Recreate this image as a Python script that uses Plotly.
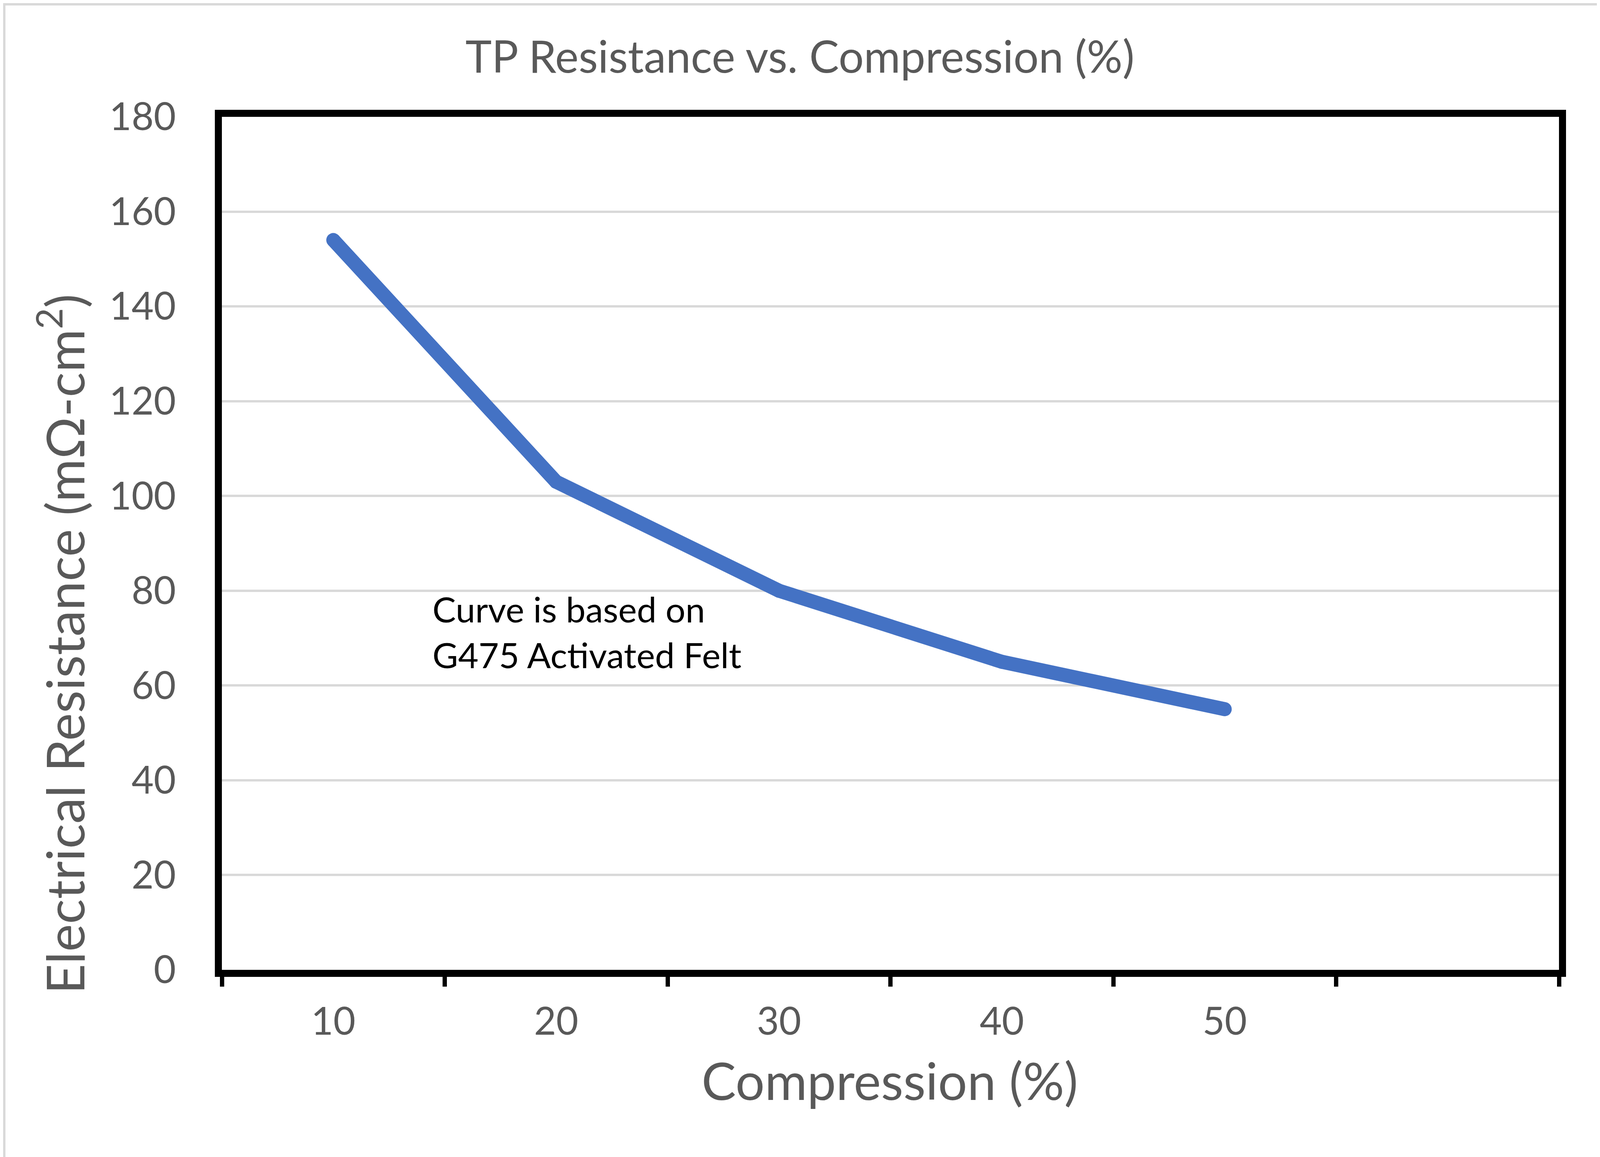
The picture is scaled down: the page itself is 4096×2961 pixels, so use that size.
import plotly.graph_objects as go

# ---- data ----
compression = [10, 20, 30, 40, 50]
resistance = [154, 103, 80, 65, 55]
x_tick_labels = ["10", "20", "30", "40", "50"]
x_boundaries = [5, 15, 25, 35, 45, 55, 65]
y_ticks = [0, 20, 40, 60, 80, 100, 120, 140, 160, 180]

title_text = "TP Resistance vs. Compression (%)"
x_title = "Compression (%)"
y_title = "Electrical Resistance (mΩ-cm<sup>2</sup>)"
note_text = "Curve is based on<br>G475 Activated Felt"

# ---- geometry (output px) ----
FW, FH = 4096, 2961
L, R, T, B = 560, 3983, 291, 2474
PW, PH = R - L, B - T

def px_x(px):
    return (px - L) / PW

def px_y(py):
    return (B - py) / PH

FONT = "Lato"
GREY = "#595959"
BLUE = "#4472C4"
LW = 36

fig = go.Figure()
fig.add_trace(go.Scatter(
    x=compression, y=resistance, mode="lines+markers",
    line=dict(color=BLUE, width=LW),
    marker=dict(color=BLUE, size=LW, line=dict(width=0)),
    showlegend=False, hoverinfo="skip",
))

fig.update_layout(
    width=FW, height=FH,
    margin=dict(l=L, r=FW - R, t=T, b=FH - B, autoexpand=False),
    paper_bgcolor="white", plot_bgcolor="white",
    font=dict(family=FONT, color=GREY),
    title=dict(text=title_text, font=dict(family=FONT, size=114, color=GREY),
               xref="container", x=0.498, xanchor="center",
               yref="container", y=1 - 178 / FH, yanchor="bottom"),
    xaxis=dict(
        range=[5, 65], tickmode="array", tickvals=compression, ticktext=x_tick_labels,
        ticks="", showgrid=False, zeroline=False,
        showline=True, linecolor="black", linewidth=18, mirror=True,
        tickfont=dict(family=FONT, size=98, color=GREY),
        ticklabelstandoff=30,
        minor=dict(tickmode="array", tickvals=x_boundaries, ticks="outside",
                   ticklen=25, tickwidth=11, tickcolor="black", showgrid=False),
    ),
    yaxis=dict(
        range=[0, 180], tickmode="array", tickvals=y_ticks,
        ticks="", showgrid=True, gridcolor="#D9D9D9", gridwidth=6, zeroline=False,
        showline=True, linecolor="black", linewidth=18, mirror=True,
        tickfont=dict(family=FONT, size=98, color=GREY),
        ticklabelstandoff=80,
    ),
    shapes=[dict(type="rect", xref="paper", yref="paper",
                 x0=px_x(3), x1=px_x(FW - 3), y0=px_y(FH - 3), y1=px_y(3),
                 line=dict(color="#D9D9D9", width=6), fillcolor="rgba(0,0,0,0)",
                 layer="below")],
    annotations=[
        dict(text=x_title, xref="paper", yref="paper", x=px_x(2270), y=px_y(2675),
             xanchor="center", yanchor="top", showarrow=False,
             font=dict(family=FONT, size=132, color=GREY)),
        dict(text=y_title, xref="paper", yref="paper", x=px_x(148), y=px_y(1640),
             xanchor="center", yanchor="middle", textangle=-90, showarrow=False,
             font=dict(family=FONT, size=134, color=GREY)),
        dict(text=note_text, xref="paper", yref="paper", x=px_x(1097), y=px_y(1494),
             xanchor="left", yanchor="top", align="left", showarrow=False,
             font=dict(family=FONT, size=90, color="black")),
    ],
)

fig.write_html("out.html")
